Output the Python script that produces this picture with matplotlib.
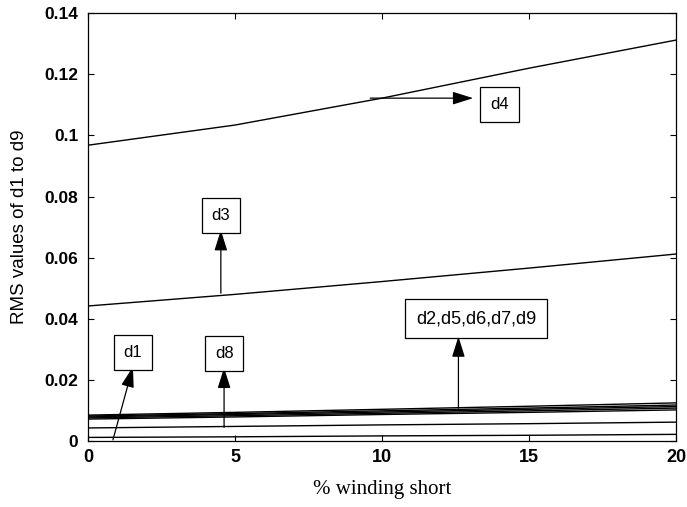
import numpy as np
import matplotlib
matplotlib.use("Agg")
import matplotlib.pyplot as plt

# ---- data ----
pct_short = [0, 5, 10, 15, 20]

d1 = [0.0012, 0.0014, 0.0017, 0.0019, 0.0022]
d8 = [0.0043, 0.0048, 0.0053, 0.0057, 0.0062]
d9 = [0.0072, 0.0079, 0.0087, 0.0094, 0.0102]
d7 = [0.0076, 0.0083, 0.0091, 0.0099, 0.0108]
d6 = [0.0079, 0.0087, 0.0095, 0.0104, 0.0113]
d5 = [0.0082, 0.0090, 0.0099, 0.0108, 0.0118]
d2 = [0.0085, 0.0094, 0.0104, 0.0114, 0.0125]
d3 = [0.0442, 0.0480, 0.0522, 0.0566, 0.0612]
d4 = [0.0968, 0.1034, 0.1122, 0.1220, 0.1312]

series = [d1, d2, d3, d4, d5, d6, d7, d8, d9]

xticks = [0, 5, 10, 15, 20]
yticks = [0, 0.02, 0.04, 0.06, 0.08, 0.1, 0.12, 0.14]
ytick_labels = ["0", "0.02", "0.04", "0.06", "0.08", "0.1", "0.12", "0.14"]

# annotations: text, box centre, arrow tail, arrow head
notes = [
    ("d4", (14.0, 0.1100), (9.6, 0.1122), (13.1, 0.1122)),
    ("d3", (4.52, 0.0739), (4.52, 0.0484), (4.52, 0.0690)),
    ("d1", (1.53, 0.0291), (0.85, 0.0004), (1.53, 0.0243)),
    ("d8", (4.63, 0.0285), (4.63, 0.0045), (4.63, 0.0240)),
    ("d2,d5,d6,d7,d9", (13.2, 0.0400), (12.6, 0.0108), (12.6, 0.0342)),
]

plt.rcParams['font.family'] = ['Liberation Sans', 'DejaVu Sans']

fig = plt.figure(figsize=(6.87, 5.07), dpi=100)
ax = fig.add_axes([0.128, 0.130, 0.856, 0.844])

for s in series:
    ax.plot(pct_short, s, color='black', linewidth=1.0)

ax.set_xlim(0, 20)
ax.set_ylim(0, 0.14)
ax.set_xticks(xticks)
ax.set_xticklabels([str(t) for t in xticks], fontsize=13, fontweight='bold')
ax.set_yticks(yticks)
ax.set_yticklabels(ytick_labels, fontsize=12.5, fontweight='bold')
ax.tick_params(direction='in', top=True, right=True, length=4, width=0.8)
ax.tick_params(axis='x', pad=6)
ax.tick_params(axis='y', pad=7)
for sp in ax.spines.values():
    sp.set_linewidth(0.9)

ax.set_xlabel("% winding short", fontsize=15, family=['Liberation Serif', 'DejaVu Serif'], labelpad=10)
ax.set_ylabel("RMS values of d1 to d9", fontsize=13.5, labelpad=12)

for txt, (bx, by), tail, head in notes:
    ax.annotate("", xy=head, xytext=tail,
                arrowprops=dict(arrowstyle='-|>,head_length=0.7,head_width=0.22',
                                color='black', lw=0.9,
                                mutation_scale=18, shrinkA=0, shrinkB=0))
    fs = 13 if len(txt) > 3 else 12
    ax.text(bx, by, txt, fontsize=fs, ha='center', va='center',
            bbox=dict(boxstyle='square,pad=0.6', facecolor='white',
                      edgecolor='black', linewidth=0.9))

fig.savefig("out.png", dpi=100)
